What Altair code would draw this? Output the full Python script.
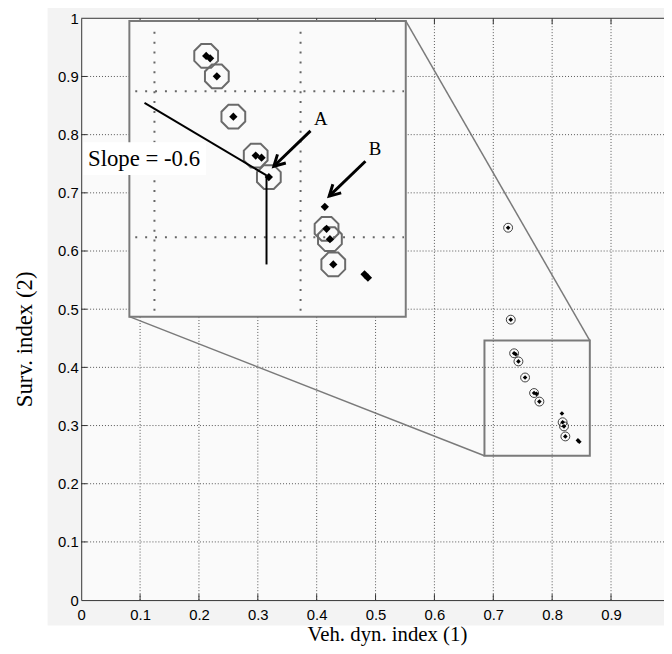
import altair as alt
import pandas as pd

# ---------------- data ----------------
veh_dyn = [0.7252, 0.7297, 0.7354, 0.7381, 0.7427, 0.7540, 0.7693, 0.7733, 0.7783,
           0.8166, 0.8178, 0.8201, 0.8224, 0.8438, 0.8461]
surv = [0.640, 0.482, 0.4242, 0.4226, 0.4102, 0.3826, 0.3559, 0.3545, 0.3412,
        0.3208, 0.3057, 0.2986, 0.2813, 0.2745, 0.2722]
circled = [True, True, True, False, True, True, True, False, True,
           False, True, True, True, False, False]

x_ticks = [0, 0.1, 0.2, 0.3, 0.4, 0.5, 0.6, 0.7, 0.8, 0.9]
y_ticks = [0, 0.1, 0.2, 0.3, 0.4, 0.5, 0.6, 0.7, 0.8, 0.9, 1.0]

# zoom box in the main axes, and the magnified inset frame
box_x = [0.685, 0.864]
box_y = [0.248, 0.446]
inset_x = [0.0818, 0.5513]
inset_y = [0.4872, 0.9954]
# inset magnification: data value -> inset position
zoom_ref_x, zoom_pos_x, zoom_kx = 0.7, 0.1244, 2.482
zoom_ref_y, zoom_pos_y, zoom_ky = 0.3, 0.6238, 2.508
inset_grid_x = [0.7, 0.8]
inset_grid_y = [0.3, 0.4]

# annotations (in zoomed data coordinates)
slope_vertex = (0.7767, 0.3423)
slope_end = (0.6932, 0.3921)
vertical_end_y = 0.2813
arrow_labels = ["A", "B"]
arrow_tail_x = [0.8068, 0.8444]
arrow_tail_y = [0.3728, 0.3520]
arrow_tip_x = [0.7817, 0.8196]
arrow_tip_y = [0.3486, 0.3281]
label_x = [0.8139, 0.8510]
label_y = [0.3810, 0.3606]
slope_text = "Slope = -0.6"
slope_text_pos = (0.1067, 0.7582)
slope_box_x = [0.0034, 0.2118]
slope_box_y = [0.7308, 0.7870]

fig_x = [-0.0571, 1.0]
fig_y = [-0.0437, 1.03]
XMAX = 0.99


def zx(v):
    return zoom_pos_x + (v - zoom_ref_x) * zoom_kx


def zy(v):
    return zoom_pos_y + (v - zoom_ref_y) * zoom_ky


# ---------------- encodings ----------------
xs = alt.Scale(domain=[0, XMAX], nice=False, zero=False)
ys = alt.Scale(domain=[0, 1], nice=False, zero=False)
xaxis = alt.Axis(values=x_ticks, format="~g", title="Veh. dyn. index (1)",
                 grid=False, ticks=False, labelPadding=8,
                 labelFont="Liberation Sans", labelFontSize=15, labelColor="black",
                 titleFont="Liberation Serif", titleFontSize=21, titleFontWeight="normal",
                 titleColor="black", titleX=309, titleY=41, titleAlign="center",
                 titleBaseline="alphabetic", domainColor="#333333", domainWidth=1,
                 labelFlush=False, zindex=1)
yaxis = alt.Axis(values=y_ticks, format="~g", title="Surv. index (2)",
                 grid=False, ticks=False, labelPadding=3,
                 labelFont="Liberation Sans", labelFontSize=15, labelColor="black",
                 titleFont="Liberation Serif", titleFontSize=23, titleFontWeight="normal",
                 titleColor="black", titleAngle=270, titleX=-50, titleY=324,
                 titleAlign="center", titleBaseline="alphabetic",
                 domainColor="#333333", domainWidth=1, labelFlush=False, zindex=1)


def X(f="x"):
    return alt.X(f, type="quantitative", scale=xs, axis=xaxis)


def Y(f="y"):
    return alt.Y(f, type="quantitative", scale=ys, axis=yaxis)


X2 = alt.X2("x2")
Y2 = alt.Y2("y2")

layers = []

# figure background (grey) and plot area
bg = pd.DataFrame({"x": [fig_x[0]], "x2": [fig_x[1]], "y": [fig_y[0]], "y2": [fig_y[1]]})
layers.append(alt.Chart(bg).mark_rect(fill="#f3f3f3").encode(x=X(), x2=X2, y=Y(), y2=Y2))
pa = pd.DataFrame({"x": [0], "x2": [XMAX], "y": [0], "y2": [1]})
layers.append(alt.Chart(pa).mark_rect(fill="#fafafa").encode(x=X(), x2=X2, y=Y(), y2=Y2))

# main grid
vg = pd.DataFrame({"x": x_ticks[1:], "y": 0, "y2": 1})
hg = pd.DataFrame({"y": y_ticks[1:-1], "x": 0, "x2": XMAX})
layers.append(alt.Chart(vg).mark_rule(stroke="#555555", strokeWidth=1, strokeDash=[1, 2])
              .encode(x=X(), y=Y(), y2=Y2))
layers.append(alt.Chart(hg).mark_rule(stroke="#555555", strokeWidth=1, strokeDash=[1, 2])
              .encode(y=Y(), x=X(), x2=X2))

# inward ticks
tl_y = 6 / 588
tl_x = 6 / 595
tb = pd.DataFrame({"x": x_ticks[1:], "y": 0, "y2": tl_y})
tt = pd.DataFrame({"x": x_ticks[1:], "y": 1 - tl_y, "y2": 1})
tlft = pd.DataFrame({"y": y_ticks[1:-1], "x": 0, "x2": tl_x})
for d in (tb, tt):
    layers.append(alt.Chart(d).mark_rule(stroke="#333333", strokeWidth=1)
                  .encode(x=X(), y=Y(), y2=Y2))
layers.append(alt.Chart(tlft).mark_rule(stroke="#333333", strokeWidth=1)
              .encode(y=Y(), x=X(), x2=X2))

# top border
topb = pd.DataFrame({"y": [1], "x": [0], "x2": [XMAX]})
layers.append(alt.Chart(topb).mark_rule(stroke="#333333", strokeWidth=1)
              .encode(y=Y(), x=X(), x2=X2))

# main points
pts = pd.DataFrame({"x": veh_dyn, "y": surv, "c": circled})
layers.append(alt.Chart(pts[pts.c]).mark_point(shape="circle", filled=False, size=81,
                                               stroke="#404040", strokeWidth=1, opacity=1)
              .encode(x=X(), y=Y()))
layers.append(alt.Chart(pts).mark_point(shape="diamond", filled=True, size=22,
                                        color="black", strokeWidth=0, opacity=1)
              .encode(x=X(), y=Y()))

# zoom box and connectors
bx = pd.DataFrame({"x": [box_x[0]], "x2": [box_x[1]], "y": [box_y[0]], "y2": [box_y[1]]})
layers.append(alt.Chart(bx).mark_rect(fillOpacity=0, stroke="#7a7a7a", strokeWidth=2)
              .encode(x=X(), x2=X2, y=Y(), y2=Y2))
conn = pd.DataFrame({"x": [box_x[1], box_x[0]], "y": [box_y[1], box_y[0]],
                     "x2": [inset_x[1], inset_x[0]], "y2": [inset_y[1], inset_y[0]]})
layers.append(alt.Chart(conn).mark_rule(stroke="#7a7a7a", strokeWidth=1.5)
              .encode(x=X(), y=Y(), x2=X2, y2=Y2))

# inset frame
fr = pd.DataFrame({"x": [inset_x[0]], "x2": [inset_x[1]], "y": [inset_y[0]], "y2": [inset_y[1]]})
layers.append(alt.Chart(fr).mark_rect(fill="#fafafa", stroke="#7a7a7a", strokeWidth=2)
              .encode(x=X(), x2=X2, y=Y(), y2=Y2))

# inset grid
ivg = pd.DataFrame({"x": [zx(v) for v in inset_grid_x], "y": inset_y[0] + 0.01, "y2": inset_y[1] - 0.01})
ihg = pd.DataFrame({"y": [zy(v) for v in inset_grid_y], "x": inset_x[0] + 0.01, "x2": inset_x[1] - 0.003})
layers.append(alt.Chart(ivg).mark_rule(stroke="#666666", strokeWidth=2, strokeDash=[2, 8])
              .encode(x=X(), y=Y(), y2=Y2))
layers.append(alt.Chart(ihg).mark_rule(stroke="#666666", strokeWidth=2, strokeDash=[2, 8])
              .encode(y=Y(), x=X(), x2=X2))

# inset points
inside = pts[(pts.x >= box_x[0]) & (pts.x <= box_x[1]) & (pts.y >= box_y[0]) & (pts.y <= box_y[1])].copy()
inside["x"] = inside["x"].map(zx)
inside["y"] = inside["y"].map(zy)
octagon = ("M0.924,0.383L0.383,0.924L-0.383,0.924L-0.924,0.383L-0.924,-0.383"
           "L-0.383,-0.924L0.383,-0.924L0.924,-0.383Z")
layers.append(alt.Chart(inside[inside.c]).mark_point(shape=octagon, filled=False, size=676,
                                                     stroke="#6a6a6a", strokeWidth=2, opacity=1)
              .encode(x=X(), y=Y()))
layers.append(alt.Chart(inside).mark_point(shape="diamond", filled=True, size=70,
                                           color="black", strokeWidth=0, opacity=1)
              .encode(x=X(), y=Y()))

# slope lines
sl = pd.DataFrame({"x": [zx(slope_vertex[0]), zx(slope_vertex[0])],
                   "y": [zy(slope_vertex[1]), zy(slope_vertex[1])],
                   "x2": [zx(slope_end[0]), zx(slope_vertex[0])],
                   "y2": [zy(slope_end[1]), zy(vertical_end_y)]})
layers.append(alt.Chart(sl).mark_rule(stroke="black", strokeWidth=2)
              .encode(x=X(), y=Y(), x2=X2, y2=Y2))

# arrows
ar = pd.DataFrame({"x": [zx(v) for v in arrow_tail_x], "y": [zy(v) for v in arrow_tail_y],
                   "x2": [zx(v) for v in arrow_tip_x], "y2": [zy(v) for v in arrow_tip_y]})
layers.append(alt.Chart(ar).mark_rule(stroke="black", strokeWidth=3)
              .encode(x=X(), y=Y(), x2=X2, y2=Y2))
heads = pd.DataFrame({"x": [zx(v) for v in arrow_tip_x], "y": [zy(v) for v in arrow_tip_y]})
layers.append(alt.Chart(heads).mark_point(shape="M-0.55,1L0,0L0.55,1", filled=False, size=484,
                                          stroke="black", strokeWidth=3, angle=226, opacity=1)
              .encode(x=X(), y=Y()))

# slope label with white box
sb = pd.DataFrame({"x": [slope_box_x[0]], "x2": [slope_box_x[1]],
                   "y": [slope_box_y[0]], "y2": [slope_box_y[1]]})
layers.append(alt.Chart(sb).mark_rect(fill="white").encode(x=X(), x2=X2, y=Y(), y2=Y2))
st = pd.DataFrame({"x": [slope_text_pos[0]], "y": [slope_text_pos[1]], "t": [slope_text]})
layers.append(alt.Chart(st).mark_text(font="Liberation Serif", fontSize=23, color="black",
                                      align="center", baseline="middle")
              .encode(x=X(), y=Y(), text="t:N"))

# A / B labels
lb = pd.DataFrame({"x": [zx(v) for v in label_x], "y": [zy(v) for v in label_y], "t": arrow_labels})
layers.append(alt.Chart(lb).mark_text(font="Liberation Serif", fontSize=19, color="black",
                                      align="center", baseline="middle")
              .encode(x=X(), y=Y(), text="t:N"))

chart = alt.layer(*layers).properties(
    width=589, height=588,
    padding={"left": 74, "top": 7, "right": 0, "bottom": 43},
    autosize=alt.AutoSizeParams(type="none"),
    background="white",
).configure_view(stroke=None)

chart.save("out.html", embed_options={"renderer": "svg", "actions": False})
